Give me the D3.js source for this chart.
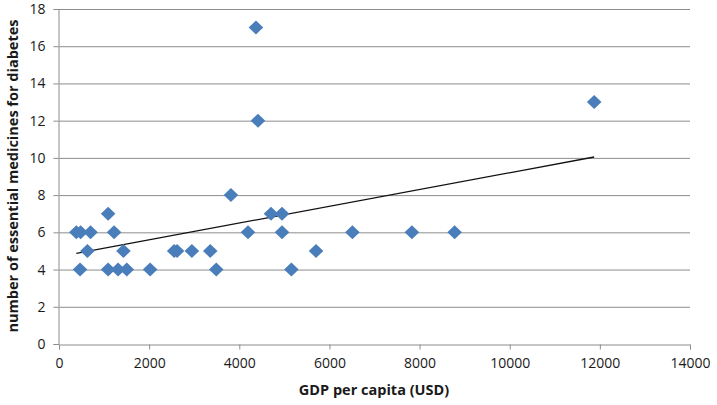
<!DOCTYPE html>
<html><head><meta charset="utf-8">
<script src="https://cdn.jsdelivr.net/npm/d3@7/dist/d3.min.js"></script>
<style>body{margin:0;background:#fff;}svg{display:block;font-family:"Open Sans",sans-serif;}</style>
</head><body>
<svg id="c" width="717" height="405"></svg>
<script>
const gdp = [385,480,700,467,630,1090,1222,1090,1311,1430,1504,2022,2555,2620,2948,3356,3489,3815,4193,4370,4415,4704,4948,4948,5156,5703,6510,7830,8778,11874];
const medicines = [6,6,6,4,5,7,6,4,4,5,4,4,5,5,5,5,4,8,6,17,12,7,7,6,4,5,6,6,6,13];
const xTicks = [0,2000,4000,6000,8000,10000,12000,14000];
const yTicks = [0,2,4,6,8,10,12,14,16,18];
const xTitle = "GDP per capita (USD)";
const yTitle = "number of essential medicines for diabetes";

const svg = d3.select("#c");
const x = d3.scaleLinear().domain([0,14000]).range([59,690]);
const y = d3.scaleLinear().domain([0,18]).range([344,9]);
const grid = "#8c8c8c";

// gridlines
svg.append("g").selectAll("line").data(yTicks.filter(d=>d>0)).join("line")
  .attr("x1",x(0)).attr("x2",x(14000)).attr("y1",d=>y(d)+0.5).attr("y2",d=>y(d)+0.5)
  .attr("stroke",grid).attr("stroke-width",1);

// axes
const xa = svg.append("g").attr("transform",`translate(0,${y(0)+0.5})`)
  .call(d3.axisBottom(x).tickValues(xTicks).tickSize(5).tickPadding(9).tickFormat(d3.format("d")));
const ya = svg.append("g").attr("transform",`translate(${x(0)-0.5},0)`)
  .call(d3.axisLeft(y).tickValues(yTicks).tickSize(5).tickPadding(8).tickFormat(d3.format("d")));
[xa,ya].forEach(a=>{
  a.select(".domain").attr("stroke",grid).attr("stroke-width",1);
  a.selectAll(".tick line").attr("stroke",grid);
  a.selectAll(".tick text").attr("fill","#1a1a1a").style("font-size","14px").style("font-family","'Open Sans',sans-serif");
});
xa.selectAll(".tick line").attr("y2",5);

// trend line (least squares)
const n = gdp.length;
const mx = d3.mean(gdp), my = d3.mean(medicines);
let sxy=0, sxx=0;
for(let i=0;i<n;i++){ sxy+=(gdp[i]-mx)*(medicines[i]-my); sxx+=(gdp[i]-mx)**2; }
const slope = sxy/sxx, icpt = my - slope*mx;
const x0 = d3.min(gdp), x1 = d3.max(gdp);
svg.append("line")
  .attr("x1",x(x0)).attr("y1",y(icpt+slope*x0))
  .attr("x2",x(x1)).attr("y2",y(icpt+slope*x1))
  .attr("stroke","#111").attr("stroke-width",1.3);

// points
const diamond = "M0,-7L7.3,0L0,7L-7.3,0Z";
svg.append("g").selectAll("path").data(gdp.map((g,i)=>[g,medicines[i]])).join("path")
  .attr("d",diamond).attr("transform",d=>`translate(${x(d[0])},${y(d[1])})`)
  .attr("fill","#4a7ebb");

// titles
svg.append("text").attr("x",374).attr("y",395).attr("text-anchor","middle")
  .style("font-size","14.5px").style("font-weight","bold").attr("fill","#1a1a1a").text(xTitle);
svg.append("text").attr("transform","translate(18,176) rotate(-90)").attr("text-anchor","middle")
  .style("font-size","14.5px").style("font-weight","bold").attr("fill","#1a1a1a").text(yTitle);
</script>
</body></html>
